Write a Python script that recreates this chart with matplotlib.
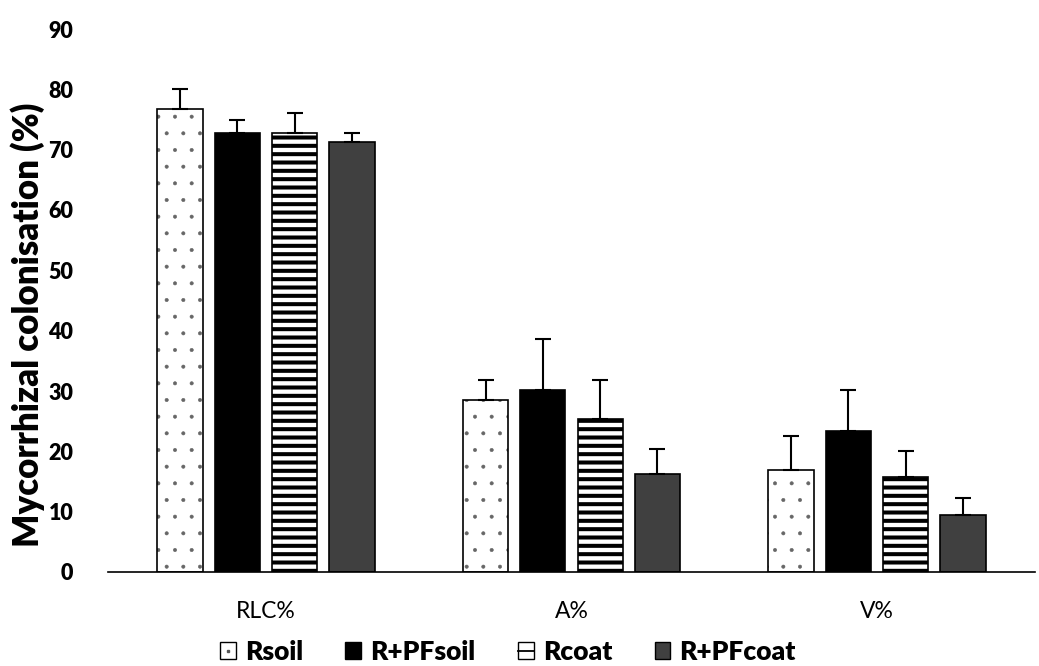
import matplotlib
matplotlib.use("Agg")
import matplotlib.pyplot as plt
from matplotlib.patches import Patch
from matplotlib.lines import Line2D
from matplotlib.legend_handler import HandlerTuple
import numpy as np

categories = ["RLC%", "A%", "V%"]
series = ["Rsoil", "R+PFsoil", "Rcoat", "R+PFcoat"]
means = {
    "Rsoil":    [76.7, 28.5, 16.9],
    "R+PFsoil": [72.7, 30.2, 23.4],
    "Rcoat":    [72.7, 25.3, 15.8],
    "R+PFcoat": [71.2, 16.3, 9.5],
}
errors = {
    "Rsoil":    [3.4, 3.3, 5.7],
    "R+PFsoil": [2.3, 8.4, 6.8],
    "Rcoat":    [3.3, 6.5, 4.3],
    "R+PFcoat": [1.5, 4.1, 2.8],
}
yticks = [0, 10, 20, 30, 40, 50, 60, 70, 80, 90]

plt.rcParams['font.family'] = ['Lato', 'DejaVu Sans']

fig = plt.figure(figsize=(10.39, 6.66), dpi=100)
ax = fig.add_axes([108/1039, 94/666, (1035-108)/1039, (572-29)/666])

x = np.arange(len(categories))
step = 0.1876
width = 0.148
offsets = [-1.5*step, -0.5*step, 0.5*step, 1.5*step]
styles = {
    "Rsoil":    dict(face="white", hatch=".", hcol="#666666", hlw=0.4),
    "R+PFsoil": dict(face="black", hatch=None, hcol=None, hlw=1.0),
    "Rcoat":    dict(face="white", hatch="--", hcol="black", hlw=2.9),
    "R+PFcoat": dict(face="#404040", hatch=None, hcol=None, hlw=1.0),
}

handles = []
for s, off in zip(series, offsets):
    st = styles[s]
    plt.rcParams['hatch.linewidth'] = st["hlw"]
    pos = x + off
    ax.bar(pos, means[s], width, color=st["face"], edgecolor=st["hcol"] if st["hcol"] else st["face"],
           hatch=st["hatch"], linewidth=0, zorder=2)
    ax.bar(pos, means[s], width, fill=False, edgecolor="black", linewidth=1.2, zorder=3)
    ax.errorbar(pos, means[s], yerr=[np.zeros(3), errors[s]], fmt="none", ecolor="black",
                elinewidth=1.5, capsize=6, capthick=1.5, zorder=4)
    box = Patch(facecolor=st["face"], edgecolor="black", linewidth=1.0)
    if s == "Rsoil":
        mark = Line2D([], [], marker="s", markersize=2.0, color="#555555", linestyle="none")
        handles.append((box, mark))
    elif s == "Rcoat":
        mark = Line2D([], [], color="black", linewidth=1.3)
        handles.append((box, mark))
    else:
        handles.append((box,))

ax.set_xlim(-0.517, 2.517)
ax.set_ylim(0, 90)
ax.set_yticks(yticks)
ax.set_yticklabels([str(t) for t in yticks], fontsize=15.5, fontweight="heavy")
ax.set_xticks(x)
ax.set_xticklabels(categories, fontsize=16.5)
ax.tick_params(axis="y", length=0, pad=25)
ax.tick_params(axis="x", length=0, pad=21)
for sp in ["top", "right", "left"]:
    ax.spines[sp].set_visible(False)
ax.spines["bottom"].set_linewidth(1.2)
ax.set_ylabel("Mycorrhizal colonisation (%)", fontsize=25, fontweight="heavy")
ax.yaxis.set_label_coords(-0.068, 0.455)

leg = fig.legend(handles=handles, labels=series, loc="center", bbox_to_anchor=(508/1039, 1-652/666),
                 ncol=4, frameon=False, prop=dict(size=19, weight="heavy"),
                 handlelength=0.6, handleheight=0.6, handletextpad=0.35, columnspacing=1.6,
                 handler_map={tuple: HandlerTuple(ndivide=1, pad=0)})

fig.savefig("out.png", dpi=100)
